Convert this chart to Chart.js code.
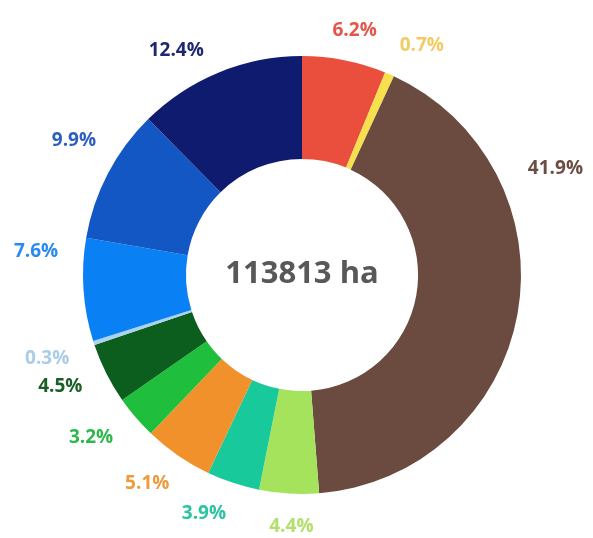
<!DOCTYPE html>
<html lang="en">
<head>
  <meta charset="UTF-8">
  <title>Land use share</title>
  <script src="https://cdn.jsdelivr.net/npm/chart.js"></script>
  <style>
    body { margin: 0; background: #fff; }
    #wrap { width: 593px; height: 538px; }
  </style>
</head>
<body>
  <div id="wrap"><canvas id="donut"></canvas></div>

  <script>
    // share of total area, clockwise from 12 o'clock
    const labels = ['A', 'B', 'C', 'D', 'E', 'F', 'G', 'H', 'I', 'J', 'K', 'L'];
    const shares = [6.2, 0.7, 41.9, 4.4, 3.9, 5.1, 3.2, 4.5, 0.3, 7.6, 9.9, 12.4];
    const totalText = '113813 ha';

    const sliceColors = ['#EA4F3E', '#F6E04E', '#6B4A3F', '#A6E35C', '#17C99B', '#F1912B',
                         '#1FBE3C', '#0C5E1E', '#A9D3EE', '#0A80F5', '#1357C5', '#0F1B6E'];
    const labelColors = ['#E4554A', '#F2CB62', '#6B4D44', '#B3E06C', '#2BC3A0', '#EE9A3E',
                         '#2DB84A', '#1B5E26', '#A9CDE8', '#2A8BEF', '#2D5FC0', '#1E2870'];
    // label placement tweaks: angle nudge (deg) and distance past the outer edge (px)
    const labelShift = [1, 4, -33, -1, 4, 2, 3, 2, 0, 9, 3, -7];
    const labelGap = [31, 40, 56, 33, 39, 41, 47, 47, 49, 48, 46, 38];

    const labelPlugin = {
      id: 'outerLabels',
      afterDatasetsDraw(chart) {
        const ctx = chart.ctx;
        const arcs = chart.getDatasetMeta(0).data;
        ctx.save();
        ctx.font = 'bold 19px "Open Sans", sans-serif';
        ctx.textAlign = 'center';
        ctx.textBaseline = 'middle';
        arcs.forEach((arc, i) => {
          const p = arc.getProps(['x', 'y', 'startAngle', 'endAngle', 'outerRadius']);
          const mid = (p.startAngle + p.endAngle) / 2 + labelShift[i] * Math.PI / 180;
          const r = p.outerRadius + labelGap[i];
          ctx.fillStyle = labelColors[i];
          ctx.fillText(shares[i].toFixed(1) + '%', p.x + r * Math.cos(mid), p.y + r * Math.sin(mid));
        });
        const a = arcs[0];
        ctx.font = 'bold 31px "Open Sans", sans-serif';
        ctx.fillStyle = '#585858';
        ctx.fillText(totalText, a.x, a.y - 1);
        ctx.restore();
      }
    };

    new Chart(document.getElementById('donut'), {
      type: 'doughnut',
      data: {
        labels: labels,
        datasets: [{
          data: shares,
          backgroundColor: sliceColors,
          borderWidth: 0
        }]
      },
      options: {
        responsive: true,
        maintainAspectRatio: false,
        animation: false,
        cutout: '53%',
        layout: { padding: { top: 56, bottom: 44, left: 83, right: 72 } },
        plugins: {
          legend: { display: false },
          tooltip: { enabled: false }
        }
      },
      plugins: [labelPlugin]
    });
  </script>
</body>
</html>
